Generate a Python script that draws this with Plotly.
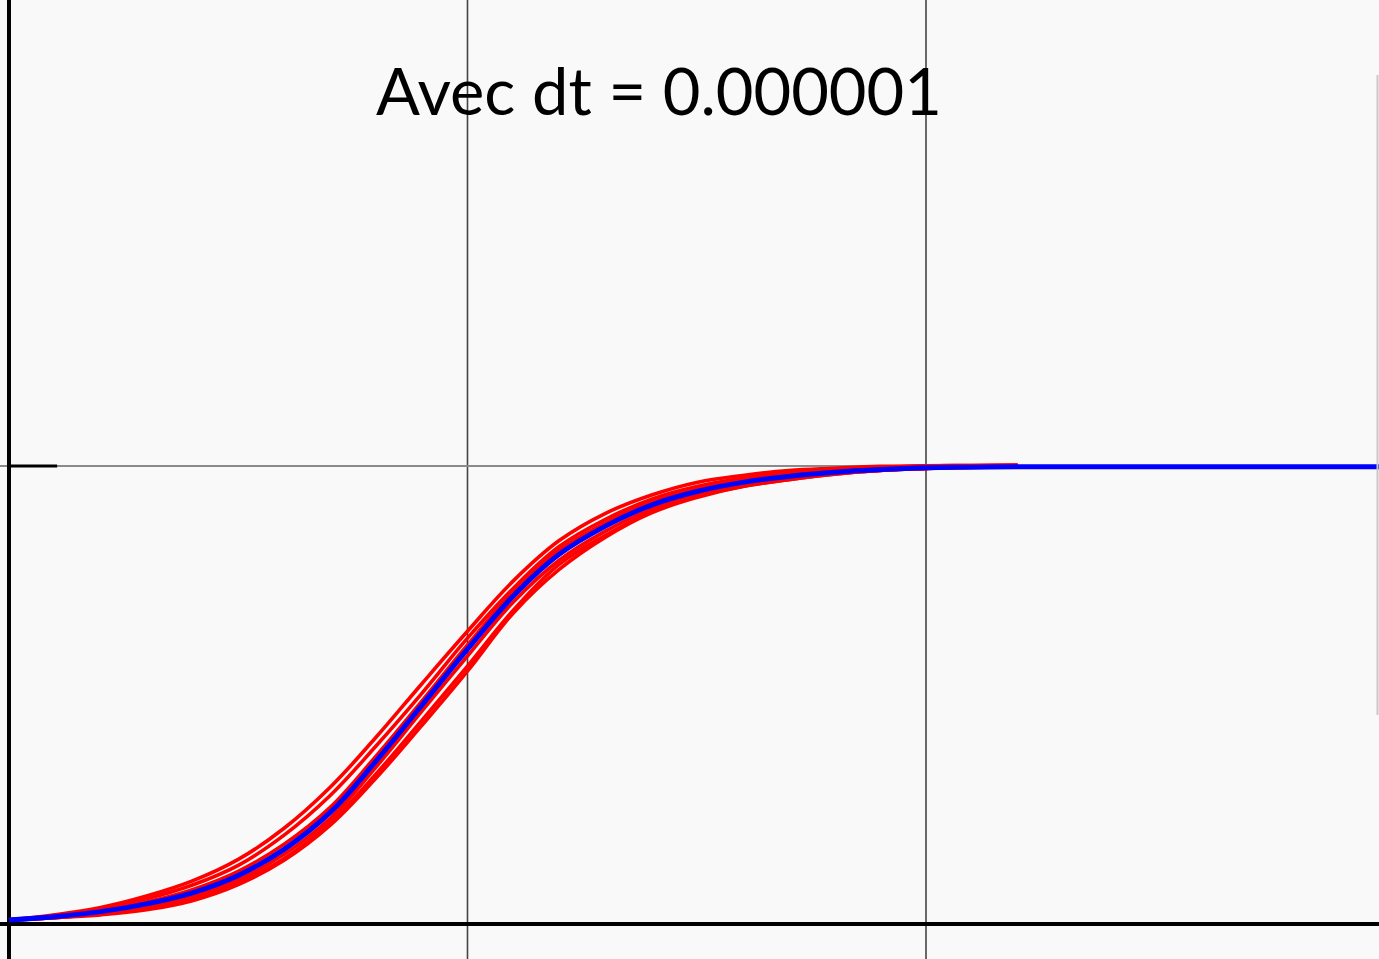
import plotly.graph_objects as go

# time grid shared by the simulated paths
t_grid = [0.0, 0.1, 0.2, 0.3, 0.4, 0.5, 0.6, 0.7, 0.8, 0.9, 1.0, 1.1,
          1.2, 1.3, 1.4, 1.5, 1.6, 1.7, 1.8, 1.9, 2.0, 2.1, 2.2]

# deterministic solution (blue), continued to the right edge
det_t = t_grid + [2.5, 3.0]
det_y = [0.009, 0.016, 0.027, 0.044, 0.068, 0.106, 0.163, 0.243, 0.355,
         0.477, 0.600, 0.716, 0.807, 0.868, 0.914, 0.944, 0.964, 0.977,
         0.986, 0.992, 0.996, 0.997, 0.998, 0.998, 0.998]

# stochastic realisations (red)
path_1 = [0.009, 0.020, 0.036, 0.061, 0.094, 0.141, 0.209, 0.298, 0.407,
          0.524, 0.639, 0.749, 0.837, 0.896, 0.936, 0.964, 0.979, 0.990,
          0.995, 0.999, 1.000, 1.001, 1.002]
path_2 = [0.009, 0.018, 0.034, 0.055, 0.085, 0.128, 0.194, 0.280, 0.388,
          0.503, 0.624, 0.733, 0.824, 0.883, 0.927, 0.955, 0.973, 0.984,
          0.993, 0.996, 1.000, 1.001, 1.002]
path_3 = [0.009, 0.016, 0.029, 0.048, 0.075, 0.115, 0.174, 0.254, 0.366,
          0.486, 0.609, 0.725, 0.816, 0.875, 0.921, 0.951, 0.968, 0.981,
          0.990, 0.994, 0.998, 0.999, 1.000]
path_4 = [0.009, 0.014, 0.023, 0.037, 0.061, 0.097, 0.152, 0.230, 0.342,
          0.464, 0.585, 0.703, 0.794, 0.857, 0.905, 0.937, 0.957, 0.973,
          0.984, 0.990, 0.996, 0.997, 0.998]
path_5 = [0.009, 0.014, 0.023, 0.033, 0.055, 0.091, 0.143, 0.221, 0.327,
          0.444, 0.563, 0.685, 0.785, 0.848, 0.899, 0.933, 0.955, 0.970,
          0.982, 0.990, 0.994, 0.997, 0.998]
path_6 = [0.009, 0.014, 0.020, 0.031, 0.051, 0.086, 0.139, 0.215, 0.318,
          0.433, 0.552, 0.679, 0.774, 0.844, 0.897, 0.931, 0.955, 0.970,
          0.982, 0.990, 0.994, 0.997, 0.998]

paths = [path_1, path_2, path_3, path_4, path_5, path_6]
title_text = "Avec dt = 0.000001"

fig = go.Figure()

for p in paths:
    fig.add_trace(go.Scatter(
        x=t_grid, y=p, mode="lines",
        line=dict(color="#ff0000", width=3.6, shape="spline", smoothing=1.1),
        hoverinfo="skip", showlegend=False))

fig.add_trace(go.Scatter(
    x=det_t, y=det_y, mode="lines",
    line=dict(color="#0000ff", width=5, shape="spline", smoothing=1.1),
    hoverinfo="skip", showlegend=False))

shapes = []
# grid lines
for gx in (1, 2):
    shapes.append(dict(type="line", xref="x", yref="paper", x0=gx, x1=gx,
                       y0=0, y1=1, line=dict(color="#444444", width=1.6),
                       layer="below"))
shapes.append(dict(type="line", xref="paper", yref="y", x0=0, x1=1,
                   y0=1, y1=1, line=dict(color="#8a8a8a", width=2),
                   layer="below"))
# axes
shapes.append(dict(type="line", xref="paper", yref="y", x0=0, x1=1,
                   y0=0, y1=0, line=dict(color="#000000", width=4),
                   layer="below"))
shapes.append(dict(type="line", xref="x", yref="paper", x0=0, x1=0,
                   y0=0, y1=1, line=dict(color="#000000", width=4),
                   layer="below"))
# tick mark at y = 1
shapes.append(dict(type="line", xref="x", yref="y", x0=0, x1=0.105,
                   y0=1, y1=1, line=dict(color="#000000", width=3),
                   layer="below"))
# edge of the window on the right
shapes.append(dict(type="line", xref="paper", yref="paper",
                   x0=1377.5 / 1379, x1=1377.5 / 1379,
                   y0=1 - 75 / 959, y1=1 - 715 / 959,
                   line=dict(color="#c8c8c8", width=2), layer="above"))

fig.update_layout(
    width=1379, height=959,
    margin=dict(l=0, r=0, t=0, b=0),
    paper_bgcolor="#f9f9f9", plot_bgcolor="#f9f9f9",
    xaxis=dict(range=[-0.0196, 2.988], visible=False, fixedrange=True),
    yaxis=dict(range=[-0.0764, 2.017], visible=False, fixedrange=True),
    shapes=shapes,
    annotations=[dict(
        text=title_text, xref="paper", yref="paper",
        x=659 / 1379, y=1 - 90 / 959, xanchor="center", yanchor="middle",
        showarrow=False,
        font=dict(family="Lato", size=65, color="#000000"))],
)

fig.write_html("out.html")
